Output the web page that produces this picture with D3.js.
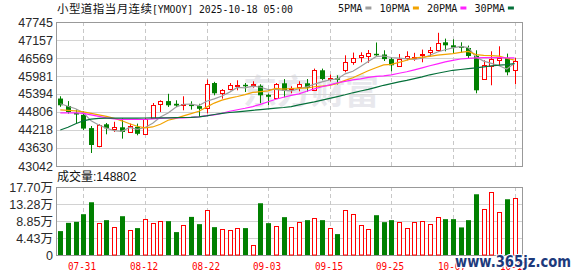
<!DOCTYPE html>
<html>
<head>
<meta charset="utf-8">
<script src="https://cdn.jsdelivr.net/npm/d3@7"></script>
<style>
  body { margin: 0; background: #fff; }
  svg { display: block; }
</style>
</head>
<body>
<div id="chart"></div>
<script>
const width = 578;
const height = 276;

const plotLeft = 56;
const plotRight = 522;
const mainTop = 22;
const mainBottom = 166;
const volTop = 187;
const volBottom = 255;

const monoFont = "'DejaVu Sans Mono', monospace";
const cjkFont = "'Noto Sans CJK SC', sans-serif";
const numFont = "'Liberation Sans', 'Noto Sans CJK SC', sans-serif";

// Trading days shown
const dates = ['07-28', '07-29', '07-30', '07-31', '08-01', '08-04', '08-05', '08-06', '08-07', '08-08',
  '08-11', '08-12', '08-13', '08-14', '08-15', '08-18', '08-19', '08-20', '08-21', '08-22',
  '08-25', '08-26', '08-27', '08-28', '08-29', '09-01', '09-02', '09-03', '09-04', '09-05',
  '09-08', '09-09', '09-10', '09-11', '09-12', '09-15', '09-16', '09-17', '09-18', '09-19',
  '09-22', '09-23', '09-24', '09-25', '09-26', '09-29', '09-30', '10-01', '10-02', '10-03',
  '10-06', '10-07', '10-08', '10-09', '10-10', '10-13', '10-14', '10-15', '10-16', '10-17'];

const opens = [45245, 45002, 44773, 44714, 44280, 43692, 44404, 44250, 44306, 44143,
  44322, 44094, 44600, 45077, 45162, 45074, 45031, 45048, 44998, 44943,
  45752, 45432, 45563, 45651, 45694, 45700, 45661, 45367, 45276, 45743,
  45557, 45618, 45743, 45540, 46168, 45897, 45906, 46168, 46429, 46598,
  46634, 46706, 46683, 46533, 46321, 46582, 46566, 46657, 46762, 46830,
  47082, 46984, 46951, 46896, 46641, 45897, 46314, 46494, 46569, 46174];
const highs = [45320, 45162, 44894, 44828, 44349, 44411, 44447, 44486, 44600, 44426,
  44426, 44617, 45100, 45188, 45400, 45188, 45319, 45155, 45074, 45864,
  45791, 45553, 45752, 45841, 45752, 45808, 45710, 45406, 45752, 45880,
  45645, 45808, 45883, 46223, 46223, 46027, 46004, 46657, 46746, 46755,
  46830, 47075, 46821, 46592, 46700, 46788, 46739, 46844, 46929, 47392,
  47203, 47180, 47082, 46975, 46821, 46494, 46788, 46951, 46713, 46569];
const lows = [44975, 44753, 44437, 44218, 43467, 43652, 44077, 44153, 43936, 44127,
  44045, 44077, 44584, 44806, 44970, 44970, 44861, 44884, 44655, 44763,
  45351, 45242, 45514, 45514, 45459, 45602, 45090, 45025, 45254, 45286,
  45416, 45482, 45472, 45514, 45841, 45808, 45704, 46102, 46347, 46429,
  46413, 46641, 46471, 46135, 46292, 46494, 46478, 46429, 46625, 46778,
  46788, 46713, 46739, 46566, 45416, 45897, 45678, 46314, 46004, 45710];
const closes = [45025, 44806, 44730, 44264, 43728, 44395, 44273, 44316, 44153, 44364,
  44094, 44568, 45019, 45162, 45025, 45015, 45070, 45015, 44910, 45733,
  45417, 45537, 45677, 45684, 45661, 45733, 45351, 45302, 45720, 45498,
  45602, 45704, 45596, 46168, 45884, 45916, 45867, 46429, 46582, 46657,
  46729, 46674, 46533, 46331, 46543, 46625, 46598, 46713, 46821, 47072,
  46984, 46909, 46902, 46634, 45514, 46331, 46536, 46569, 46102, 46461];
const volumes = [62200, 83700, 86300, 106200, 137300, 82900, 90700, 72500, 101000, 64800,
  70000, 92500, 82900, 87300, 88100, 59600, 77000, 99200, 80300, 118400,
  72500, 66600, 64000, 69200, 70000, 25100, 134700, 82900, 74400, 98500,
  71800, 85500, 90700, 95100, 90700, 69200, 54400, 118400, 106200, 77000,
  66600, 103600, 85500, 90700, 85500, 69200, 85500, 87300, 79500, 97700,
  93300, 93300, 71800, 90700, 158100, 121000, 165000, 113200, 145100, 148802];

// Moving averages
const ma5 = [45074, 44992, 44910, 44780, 44518, 44384, 44277, 44195, 44175, 44300,
  44241, 44300, 44440, 44642, 44773, 44959, 45058, 45064, 45014, 45155,
  45236, 45329, 45455, 45610, 45595, 45652, 45615, 45540, 45547, 45514,
  45495, 45565, 45624, 45714, 45791, 45854, 45886, 46053, 46136, 46290,
  46453, 46614, 46635, 46585, 46562, 46541, 46526, 46562, 46660, 46766,
  46838, 46900, 46947, 46910, 46598, 46468, 46393, 46317, 46210, 46400];
const ma10 = [44878, 44861, 44845, 44812, 44763, 44714, 44665, 44600, 44518, 44420,
  44339, 44288, 44317, 44407, 44537, 44599, 44679, 44752, 44828, 44964,
  45097, 45194, 45259, 45312, 45375, 45444, 45472, 45497, 45578, 45555,
  45573, 45590, 45582, 45630, 45653, 45674, 45740, 45838, 45925, 46041,
  46153, 46250, 46344, 46360, 46426, 46497, 46570, 46599, 46622, 46664,
  46689, 46713, 46755, 46785, 46682, 46653, 46647, 46632, 46560, 46499];
const ma20 = [44780, 44780, 44780, 44763, 44714, 44665, 44616, 44584, 44567, 44567,
  44567, 44567, 44584, 44600, 44616, 44616, 44616, 44633, 44649, 44685,
  44714, 44763, 44829, 44878, 44927, 44982, 45057, 45139, 45221, 45286,
  45351, 45400, 45482, 45563, 45629, 45694, 45760, 45808, 45857, 45890,
  45939, 45972, 45988, 46021, 46070, 46119, 46184, 46249, 46315, 46380,
  46445, 46494, 46537, 46559, 46576, 46582, 46582, 46582, 46576, 46576];
const ma30 = [44218, 44306, 44420, 44518, 44574, 44600, 44607, 44607, 44607, 44607,
  44607, 44610, 44613, 44616, 44616, 44623, 44626, 44633, 44649, 44682,
  44724, 44763, 44790, 44812, 44835, 44861, 44884, 44910, 44933, 44953,
  44982, 45041, 45090, 45139, 45195, 45253, 45309, 45368, 45433, 45492,
  45547, 45612, 45678, 45733, 45792, 45841, 45897, 45955, 46021, 46070,
  46119, 46168, 46194, 46223, 46249, 46282, 46315, 46337, 46354, 46386];

const priceTicks = [43042, 43630, 44218, 44806, 45394, 45981, 46569, 47157, 47745];
const volTicks = [0, 44250, 88500, 132750, 177000];
const volTickLabels = ['0', '4.43万', '8.85万', '13.28万', '17.70万'];
const dateTicks = ['07-31', '08-12', '08-22', '09-03', '09-15', '09-25', '10-07', '10-17'];

const maNames = ['5PMA', '10PMA', '20PMA', '30PMA'];
const maSeries = [ma5, ma10, ma20, ma30];
const maColors = ['#9e9e9e', '#f2a300', '#ff22ff', '#05703a'];

const upColor = '#ff0000';
const downColor = '#008000';

const svg = d3.select('#chart')
  .append('svg')
  .attr('width', width)
  .attr('height', height);

// Scales
const x = d3.scalePoint()
  .domain(dates)
  .range([60.3, 514.5]);

const y = d3.scaleLinear()
  .domain([priceTicks[0], priceTicks[priceTicks.length - 1]])
  .range([mainBottom, mainTop]);

const yVol = d3.scaleLinear()
  .domain([0, volTicks[volTicks.length - 1]])
  .range([volBottom, volTop]);

const cx = d => Math.round(x(d));
const isUp = i => closes[i] > opens[i];
const colorOf = i => isUp(i) ? upColor : downColor;

// Watermark
svg.append('text')
  .attr('x', 243)
  .attr('y', 104)
  .attr('font-family', cjkFont)
  .attr('font-size', 34)
  .attr('font-weight', 'bold')
  .attr('fill', '#e8e8ed')
  .text('东方财富');

// Price grid + labels
const gMain = svg.append('g')
  .attr('transform', `translate(${plotLeft},0)`)
  .call(d3.axisLeft(y)
    .tickValues(priceTicks)
    .tickFormat(d3.format('d'))
    .tickSize(-(plotRight - plotLeft))
    .tickPadding(3));
gMain.select('.domain').remove();
gMain.selectAll('line').attr('stroke', '#d2d2d2');
gMain.selectAll('text')
  .attr('fill', '#2a2a2a')
  .attr('font-family', numFont)
  .attr('font-size', 12.5);

// Volume grid + labels
const gVol = svg.append('g')
  .attr('transform', `translate(${plotLeft},0)`)
  .call(d3.axisLeft(yVol)
    .tickValues(volTicks)
    .tickFormat((d, i) => volTickLabels[i])
    .tickSize(-(plotRight - plotLeft))
    .tickPadding(3));
gVol.select('.domain').remove();
gVol.selectAll('line').attr('stroke', '#d2d2d2');
gVol.selectAll('text')
  .attr('fill', '#2a2a2a')
  .attr('font-family', numFont)
  .attr('font-size', 12.5);

// Dashed date lines
[[mainTop, mainBottom], [volTop, volBottom]].forEach(([t, b]) => {
  svg.append('g')
    .selectAll('line')
    .data(dateTicks)
    .join('line')
    .attr('x1', d => cx(d) + 0.5)
    .attr('x2', d => cx(d) + 0.5)
    .attr('y1', t)
    .attr('y2', b)
    .attr('stroke', '#c8c8c8')
    .attr('stroke-dasharray', '4,3');
});

// Frames
[[mainTop, mainBottom], [volTop, volBottom]].forEach(([t, b]) => {
  svg.append('rect')
    .attr('x', plotLeft + 0.5)
    .attr('y', t + 0.5)
    .attr('width', plotRight - plotLeft)
    .attr('height', b - t)
    .attr('fill', 'none')
    .attr('stroke', '#999');
});

// Candles
const candles = svg.append('g')
  .selectAll('g')
  .data(dates)
  .join('g');

candles.append('line')
  .attr('x1', d => cx(d) + 0.5)
  .attr('x2', d => cx(d) + 0.5)
  .attr('y1', (d, i) => y(highs[i]))
  .attr('y2', (d, i) => y(lows[i]))
  .attr('stroke', (d, i) => colorOf(i));

candles.append('rect')
  .each(function (d, i) {
    const top = y(Math.max(opens[i], closes[i]));
    const bot = y(Math.min(opens[i], closes[i]));
    const r = d3.select(this);
    if (isUp(i)) {
      const t = Math.round(top) + 0.5;
      r.attr('x', cx(d) - 1.5)
        .attr('y', t)
        .attr('width', 4)
        .attr('height', Math.max(Math.round(bot) - t + 0.5, 1))
        .attr('fill', '#fff')
        .attr('stroke', upColor);
    } else {
      r.attr('x', cx(d) - 2)
        .attr('y', top)
        .attr('width', 5)
        .attr('height', Math.max(bot - top, 1.5))
        .attr('fill', downColor);
    }
  });

// Moving average lines
const maLine = d3.line()
  .x((d, i) => x(dates[i]))
  .y(d => y(d));

svg.append('g')
  .selectAll('path')
  .data(maSeries)
  .join('path')
  .attr('d', maLine)
  .attr('fill', 'none')
  .attr('stroke', (d, i) => maColors[i])
  .attr('stroke-width', 1.2);

// Volume bars
svg.append('g')
  .selectAll('rect')
  .data(dates)
  .join('rect')
  .each(function (d, i) {
    const r = d3.select(this);
    const top = yVol(volumes[i]);
    if (isUp(i)) {
      const t = Math.round(top) + 0.5;
      r.attr('x', cx(d) - 1.5)
        .attr('y', t)
        .attr('width', 4)
        .attr('height', volBottom - t)
        .attr('fill', '#fff')
        .attr('stroke', upColor);
    } else {
      r.attr('x', cx(d) - 2)
        .attr('y', top)
        .attr('width', 5)
        .attr('height', volBottom - top)
        .attr('fill', downColor);
    }
  });

// Date labels
svg.append('g')
  .selectAll('text')
  .data(dateTicks)
  .join('text')
  .attr('x', d => cx(d) - 1)
  .attr('y', 270)
  .attr('text-anchor', 'middle')
  .attr('font-family', monoFont)
  .attr('font-size', 11)
  .attr('textLength', 28)
  .attr('lengthAdjust', 'spacingAndGlyphs')
  .attr('fill', upColor)
  .text(d => d);

// Title
const title = svg.append('text')
  .attr('y', 12.5)
  .attr('fill', '#111');
title.append('tspan')
  .attr('x', 57)
  .attr('font-family', cjkFont)
  .attr('font-size', 11.5)
  .attr('textLength', 95)
  .text('小型道指当月连续');
title.append('tspan')
  .attr('x', 152)
  .attr('font-family', monoFont)
  .attr('font-size', 11)
  .attr('textLength', 141)
  .attr('lengthAdjust', 'spacingAndGlyphs')
  .text('[YMOOY] 2025-10-18 05:00');

// Legend
let lx = 338;
maNames.forEach((name, i) => {
  const w = name.length * 6.1;
  svg.append('text')
    .attr('x', lx)
    .attr('y', 11.5)
    .attr('font-family', monoFont)
    .attr('font-size', 11)
    .attr('textLength', w)
    .attr('lengthAdjust', 'spacingAndGlyphs')
    .attr('fill', '#111')
    .text(name);
  svg.append('rect')
    .attr('x', lx + w + 3)
    .attr('y', 6.5)
    .attr('width', 6)
    .attr('height', 3)
    .attr('fill', maColors[i]);
  lx += w + 3 + 6 + 8;
});

// Volume caption
const volCap = svg.append('text')
  .attr('x', 57)
  .attr('y', 181)
  .attr('fill', '#111');
volCap.append('tspan')
  .attr('font-family', cjkFont)
  .attr('font-size', 12)
  .text('成交量');
volCap.append('tspan')
  .attr('font-family', numFont)
  .attr('font-size', 12)
  .text(':' + volumes[volumes.length - 1]);

// Site watermark
svg.append('text')
  .attr('x', 455)
  .attr('y', 267)
  .attr('font-family', "'DejaVu Sans', sans-serif")
  .attr('font-size', 15)
  .attr('font-weight', 'bold')
  .attr('textLength', 116)
  .attr('lengthAdjust', 'spacingAndGlyphs')
  .attr('fill', '#1d3a7c')
  .attr('stroke', '#fff')
  .attr('stroke-width', 2)
  .attr('paint-order', 'stroke')
  .text('www.365jz.com');
</script>
</body>
</html>
